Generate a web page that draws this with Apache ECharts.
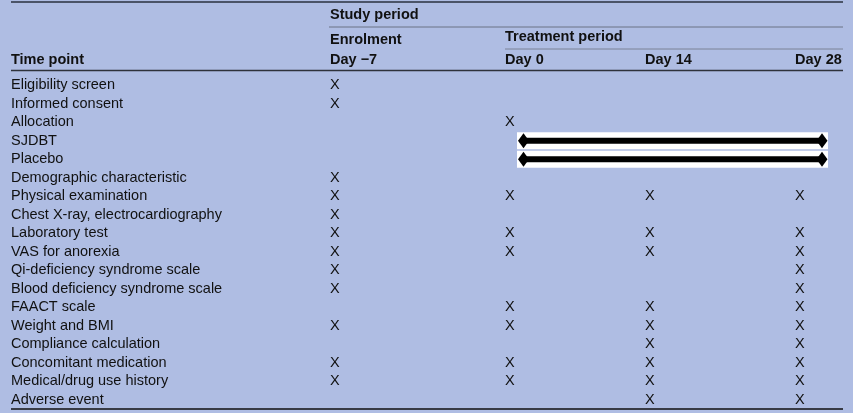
<!DOCTYPE html>
<html>
<head>
<meta charset="utf-8">
<script src="https://cdn.jsdelivr.net/npm/echarts@6/dist/echarts.min.js"></script>
<style>
  html, body { margin: 0; padding: 0; background: #afbde3; }
  #chart { width: 853px; height: 413px; }
</style>
</head>
<body>
<div id="chart"></div>
<script>
// table content
const rows = [
  "Eligibility screen", "Informed consent", "Allocation", "SJDBT", "Placebo",
  "Demographic characteristic", "Physical examination", "Chest X-ray, electrocardiography",
  "Laboratory test", "VAS for anorexia", "Qi-deficiency syndrome scale",
  "Blood deficiency syndrome scale", "FAACT scale", "Weight and BMI",
  "Compliance calculation", "Concomitant medication", "Medical/drug use history", "Adverse event"
];
const columns = ["Day \u22127", "Day 0", "Day 14", "Day 28"];
// 1 = X in that cell, one value per row
const dayMinus7 = [1, 1, 0, 0, 0, 1, 1, 1, 1, 1, 1, 1, 0, 1, 0, 1, 1, 0];
const day0      = [0, 0, 1, 0, 0, 0, 1, 0, 1, 1, 0, 0, 1, 1, 0, 1, 1, 0];
const day14     = [0, 0, 0, 0, 0, 0, 1, 0, 1, 1, 0, 0, 1, 1, 1, 1, 1, 1];
const day28     = [0, 0, 0, 0, 0, 0, 1, 0, 1, 1, 1, 1, 1, 1, 1, 1, 1, 1];
// treatment arms run across the treatment period
const arms = ["SJDBT", "Placebo"];
const armFrom = "Day 0";
const armTo = "Day 28";

// layout (px on a 0..853 x axis)
const colLeft = [330, 505, 645, 795];
const tableLeft = 11, tableRight = 843;
const font = "'Liberation Sans', Arial, sans-serif";
const fs = 14.5;
const ink = "#111";

const chart = echarts.init(document.getElementById("chart"));

let marks = [];
[dayMinus7, day0, day14, day28].forEach((col, ci) => {
  col.forEach((v, ri) => { if (v) marks.push([colLeft[ci], ri]); });
});

let armData = arms.map(a => [colLeft[columns.indexOf(armFrom)] + 12, tableRight - 15, rows.indexOf(a)]);

function hline(x1, x2, y, w, c) {
  return { type: "line", shape: { x1: x1, y1: y, x2: x2, y2: y }, style: { stroke: c, lineWidth: w } };
}
function htext(t, x, y, bold) {
  return {
    type: "text", x: x, y: y,
    style: { text: t, fill: ink, font: (bold ? "bold " : "") + fs + "px " + font, verticalAlign: "middle", align: "left" }
  };
}

let graphics = [
  hline(tableLeft, tableRight, 2, 2, "#4b5468"),
  hline(329, tableRight, 27, 1, "#6b7385"),
  hline(505, tableRight, 49, 1, "#7a8296"),
  hline(tableLeft, tableRight, 70.5, 1.5, "#2e323b"),
  hline(tableLeft, tableRight, 409, 1.5, "#111"),
  htext("Study period", 330, 15, true),
  htext("Enrolment", 330, 40, true),
  htext("Treatment period", 505, 37, true),
  htext("Time point", tableLeft, 60, true)
];
columns.forEach((c, i) => graphics.push(htext(c, colLeft[i], 60, true)));

chart.setOption({
  backgroundColor: "#afbde3",
  animation: false,
  grid: { left: 0, right: 0, top: 76, bottom: 4 },
  xAxis: { type: "value", min: 0, max: 853, show: false },
  yAxis: {
    type: "category",
    data: rows,
    inverse: true,
    axisLine: { show: false },
    axisTick: { show: false },
    splitLine: { show: false },
    axisLabel: { inside: true, interval: 0, margin: tableLeft, color: ink, fontSize: fs, fontFamily: font, align: "left" }
  },
  graphic: graphics,
  series: [
    {
      type: "custom",
      name: "arms",
      data: armData,
      renderItem: function (params, api) {
        const p0 = api.coord([api.value(0), api.value(2)]);
        const p1 = api.coord([api.value(1), api.value(2)]);
        const y = p0[1];
        const dw = 5.5, dh = 7.5;
        const l = p0[0] + 6.5, r = p1[0] - 6;
        return {
          type: "group",
          children: [
            { type: "rect", shape: { x: p0[0], y: y - 8.5, width: p1[0] - p0[0], height: 17 }, style: { fill: "#fff" } },
            { type: "line", shape: { x1: l, y1: y, x2: r, y2: y }, style: { stroke: "#000", lineWidth: 6 } },
            { type: "polygon", shape: { points: [[l - dw, y], [l, y - dh], [l + dw, y], [l, y + dh]] }, style: { fill: "#000" } },
            { type: "polygon", shape: { points: [[r - dw, y], [r, y - dh], [r + dw, y], [r, y + dh]] }, style: { fill: "#000" } }
          ]
        };
      }
    },
    {
      type: "custom",
      name: "marks",
      data: marks,
      renderItem: function (params, api) {
        const p = api.coord([api.value(0), api.value(1)]);
        return {
          type: "text",
          x: p[0], y: p[1],
          style: { text: "X", fill: ink, font: fs + "px " + font, verticalAlign: "middle", align: "left" }
        };
      }
    }
  ]
});
</script>
</body>
</html>
